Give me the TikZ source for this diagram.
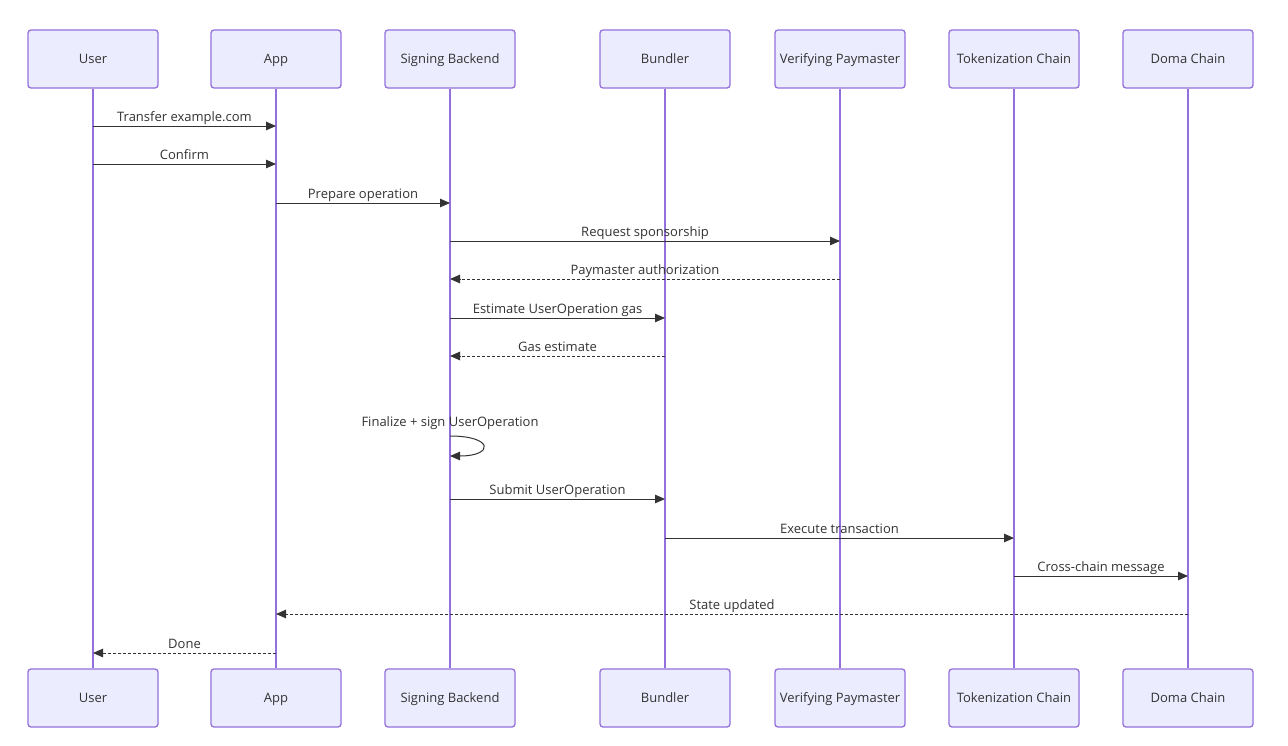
\documentclass[tikz,border=0pt]{standalone}
\usepackage{fontspec}
\setmainfont{Open Sans}
\usetikzlibrary{arrows.meta,calc}
\definecolor{ActorFill}{HTML}{ECECFF}
\definecolor{ActorLine}{HTML}{9370DB}
\definecolor{Ink}{HTML}{333333}
\tikzset{
  actor/.style={draw=ActorLine,fill=ActorFill,line width=1.3pt,rounded corners=3pt,minimum width=130pt,minimum height=58pt,font=\fontsize{13}{15}\selectfont,text=Ink,inner sep=0pt,text height=11pt,text depth=1.5pt},
  life/.style={draw=ActorLine,line width=1.3pt},
  msg/.style={-{Triangle[length=10pt,width=8.5pt]},draw=Ink,line width=1pt},
  reply/.style={msg,dash pattern=on 3pt off 2pt},
  lbl/.style={midway,above,inner sep=1.5pt,font=\fontsize{13}{15}\selectfont,text=Ink,text height=9.5pt,text depth=3pt}
}
\begin{document}
\begin{tikzpicture}[x=1pt,y=-1pt]
  \useasboundingbox[fill=white] (0,0) rectangle (1288,745);
  % participants, top row
  \node[actor] (usr) at (93,59) {User};
  \node[actor] (app) at (276,59) {App};
  \node[actor] (sb) at (450,59) {Signing Backend};
  \node[actor] (bnd) at (665,59) {Bundler};
  \node[actor] (pm) at (840,59) {Verifying Paymaster};
  \node[actor] (tok) at (1014,59) {Tokenization Chain};
  \node[actor] (doma) at (1188,59) {Doma Chain};
  % participants, bottom row
  \node[actor] (usrB) at (93,698) {User};
  \node[actor] (appB) at (276,698) {App};
  \node[actor] (sbB) at (450,698) {Signing Backend};
  \node[actor] (bndB) at (665,698) {Bundler};
  \node[actor] (pmB) at (840,698) {Verifying Paymaster};
  \node[actor] (tokB) at (1014,698) {Tokenization Chain};
  \node[actor] (domaB) at (1188,698) {Doma Chain};
  % lifelines
  \foreach \p in {usr,app,sb,bnd,pm,tok,doma}
    \draw[life] (\p.south) -- (\p B.north);
  % message rows
  \coordinate (r1) at (0,126);
  \coordinate (r2) at (0,164);
  \coordinate (r3) at (0,203);
  \coordinate (r4) at (0,241);
  \coordinate (r5) at (0,279);
  \coordinate (r6) at (0,318);
  \coordinate (r7) at (0,356);
  \coordinate (r8a) at (0,436);
  \coordinate (r8b) at (0,456);
  \coordinate (r9) at (0,499);
  \coordinate (r10) at (0,538);
  \coordinate (r11) at (0,576);
  \coordinate (r12) at (0,614);
  \coordinate (r13) at (0,653);
  % messages
  \draw[msg] (usr |- r1) -- (app |- r1) node[lbl] {Transfer example.com};
  \draw[msg] (usr |- r2) -- (app |- r2) node[lbl] {Confirm};
  \draw[msg] (app |- r3) -- (sb |- r3) node[lbl] {Prepare operation};
  \draw[msg] (sb |- r4) -- (pm |- r4) node[lbl] {Request sponsorship};
  \draw[reply] (pm |- r5) -- (sb |- r5) node[lbl] {Paymaster authorization};
  \draw[msg] (sb |- r6) -- (bnd |- r6) node[lbl] {Estimate UserOperation gas};
  \draw[reply] (bnd |- r7) -- (sb |- r7) node[lbl] {Gas estimate};
  \draw[msg] (sb |- r8a) .. controls ($(sb |- r8a)+(44,0)$) and ($(sb |- r8b)+(44,0)$) .. (sb |- r8b);
  \node[font=\fontsize{13}{15}\selectfont,text=Ink,text height=9.5pt,text depth=3pt] (selflbl) at (450,423) {Finalize + sign UserOperation};
  \draw[msg] (sb |- r9) -- (bnd |- r9) node[lbl] {Submit UserOperation};
  \draw[msg] (bnd |- r10) -- (tok |- r10) node[lbl] {Execute transaction};
  \draw[msg] (tok |- r11) -- (doma |- r11) node[lbl] {Cross-chain message};
  \draw[reply] (doma |- r12) -- (app |- r12) node[lbl] {State updated};
  \draw[reply] (app |- r13) -- (usr |- r13) node[lbl] {Done};
\end{tikzpicture}
\end{document}
